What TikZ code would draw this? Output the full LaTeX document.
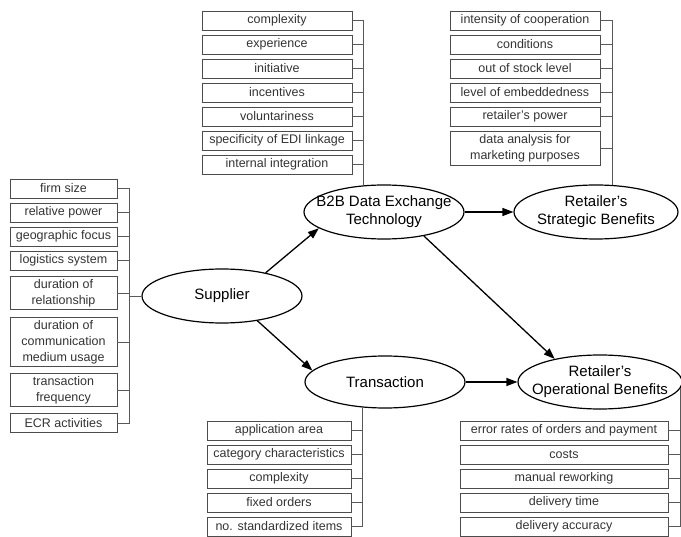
\documentclass[tikz,border=0pt]{standalone}
\usepackage{fontspec}
\setmainfont{Liberation Sans}
\usetikzlibrary{shapes.geometric,arrows.meta}

\tikzset{
  factor/.style={draw=black!70,line width=0.8pt,text=black!80,minimum height=19pt,
    inner xsep=2pt,inner ysep=3pt,align=center,font=\fontsize{12.5}{16}\selectfont},
  supbox/.style={factor,minimum width=107pt},
  techbox/.style={factor,minimum width=150pt},
  stratbox/.style={factor,minimum width=150pt},
  transbox/.style={factor,minimum width=144pt},
  opbox/.style={factor,minimum width=208pt},
  construct/.style={draw,ellipse,line width=1.2pt,inner sep=0pt,minimum height=54pt},
  constructtext/.style={align=center,font=\fontsize{15}{18}\selectfont},
  bar/.style={draw=black!65,line width=0.8pt},
  flow/.style={-{Triangle[length=11pt,width=8pt]},line width=1.3pt}
}

\begin{document}
\begin{tikzpicture}[x=1pt,y=-1pt]
  \useasboundingbox (0,0) rectangle (681,537);

  % constructs
  \node[construct,minimum width=160pt,label={[constructtext]center:Supplier}] (sup) at (222,296) {};
  \node[construct,minimum width=160pt,label={[constructtext]center:B2B Data Exchange\\Technology}] (b2b) at (384,212) {};
  \node[construct,minimum width=164pt,label={[constructtext]center:Retailer's\\Strategic Benefits}] (strat) at (596,212) {};
  \node[construct,minimum width=160pt,minimum height=52pt,label={[constructtext]center:Transaction}] (trans) at (385,382) {};
  \node[construct,minimum width=164pt,label={[constructtext]center:Retailer's\\Operational Benefits}] (op) at (600,382) {};

  % supplier factors
  \node[supbox] (s1) at (63.5,188.5) {firm size};
  \node[supbox] (s2) at (63.5,212.5) {relative power};
  \node[supbox] (s3) at (63.5,236.5) {geographic focus};
  \node[supbox] (s4) at (63.5,260.5) {logistics system};
  \node[supbox] (s5) at (63.5,293) {duration of\\relationship};
  \node[supbox] (s6) at (63.5,342) {duration of\\communication\\medium usage};
  \node[supbox] (s7) at (63.5,390) {transaction\\frequency};
  \node[supbox] (s8) at (63.5,423) {ECR activities};

  % technology factors
  \node[techbox] (t1) at (277,20.5) {complexity};
  \node[techbox] (t2) at (277,44.5) {experience};
  \node[techbox] (t3) at (277,68.5) {initiative};
  \node[techbox] (t4) at (277,92.5) {incentives};
  \node[techbox] (t5) at (277,116.5) {voluntariness};
  \node[techbox] (t6) at (277,140.5) {specificity of EDI linkage};
  \node[techbox] (t7) at (277,164.5) {internal integration};

  % strategic benefit factors
  \node[stratbox] (r1) at (525,20.5) {intensity of cooperation};
  \node[stratbox] (r2) at (525,44.5) {conditions};
  \node[stratbox] (r3) at (525,68.5) {out of stock level};
  \node[stratbox] (r4) at (525,92.5) {level of embeddedness};
  \node[stratbox] (r5) at (525,116.5) {retailer's power};
  \node[stratbox] (r6) at (525,148.5) {data analysis for\\marketing purposes};

  % transaction factors
  \node[transbox] (x1) at (279,430.5) {application area};
  \node[transbox] (x2) at (279,454.5) {category characteristics};
  \node[transbox] (x3) at (279,478.5) {complexity};
  \node[transbox] (x4) at (279,502.5) {fixed orders};
  \node[transbox] (x5) at (279,526.5) {no. standardized items};

  % operational benefit factors
  \node[opbox] (o1) at (564,430.5) {error rates of orders and payment};
  \node[opbox] (o2) at (564,454.5) {costs};
  \node[opbox] (o3) at (564,478.5) {manual reworking};
  \node[opbox] (o4) at (564,502.5) {delivery time};
  \node[opbox] (o5) at (564,526.5) {delivery accuracy};

  % brackets
  \coordinate (sbar) at (129,296);
  \draw[bar] (s1.east) -| (s8.east -| sbar) -- (s8.east);
  \draw[bar] (s2.east) -- (s2.east -| sbar);
  \draw[bar] (s3.east) -- (s3.east -| sbar);
  \draw[bar] (s4.east) -- (s4.east -| sbar);
  \draw[bar] (s5.east) -- (s5.east -| sbar);
  \draw[bar] (s6.east) -- (s6.east -| sbar);
  \draw[bar] (s7.east) -- (s7.east -| sbar);
  \draw[bar] (sbar) -- (sup.west);

  \draw[bar] (t1.east) -| (b2b.128);
  \draw[bar] (t2.east) -- (t2.east -| b2b.128);
  \draw[bar] (t3.east) -- (t3.east -| b2b.128);
  \draw[bar] (t4.east) -- (t4.east -| b2b.128);
  \draw[bar] (t5.east) -- (t5.east -| b2b.128);
  \draw[bar] (t6.east) -- (t6.east -| b2b.128);
  \draw[bar] (t7.east) -- (t7.east -| b2b.128);

  \draw[bar] (r1.east) -| (strat.59);
  \draw[bar] (r2.east) -- (r2.east -| strat.59);
  \draw[bar] (r3.east) -- (r3.east -| strat.59);
  \draw[bar] (r4.east) -- (r4.east -| strat.59);
  \draw[bar] (r5.east) -- (r5.east -| strat.59);
  \draw[bar] (r6.east) -- (r6.east -| strat.59);

  \draw[bar] (x5.east) -| (trans.229);
  \draw[bar] (x1.east) -- (x1.east -| trans.229);
  \draw[bar] (x2.east) -- (x2.east -| trans.229);
  \draw[bar] (x3.east) -- (x3.east -| trans.229);
  \draw[bar] (x4.east) -- (x4.east -| trans.229);

  \draw[bar] (o5.east) -| (op.-4);
  \draw[bar] (o1.east) -- (o1.east -| op.-4);
  \draw[bar] (o2.east) -- (o2.east -| op.-4);
  \draw[bar] (o3.east) -- (o3.east -| op.-4);
  \draw[bar] (o4.east) -- (o4.east -| op.-4);

  % effects
  \draw[flow] (sup.28) -- (b2b.194);
  \draw[flow] (sup.-35) -- (trans.171);
  \draw[flow] (b2b) -- (strat);
  \draw[flow] (b2b.-31) -- (op.153);
  \draw[flow] (trans) -- (op);

\end{tikzpicture}
\end{document}
